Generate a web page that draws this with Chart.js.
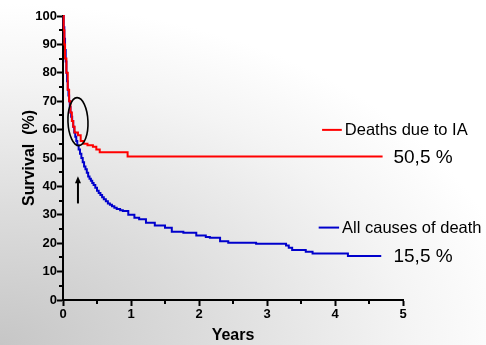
<!DOCTYPE html>
<html>
<head>
<meta charset="utf-8">
<script src="https://cdn.jsdelivr.net/npm/chart.js@4.4.0/dist/chart.umd.min.js"></script>
<style>
html,body{margin:0;padding:0;}
body{width:486px;height:345px;overflow:hidden;
background: radial-gradient(ellipse 120% 110% at 0% 100%, #c6c6c6 0%, #dcdcdc 35%, #f4f4f4 70%, #ffffff 90%);}
#wrap{position:relative;width:486px;height:345px;}
</style>
</head>
<body>
<div id="wrap"><canvas id="c" width="486" height="345"></canvas></div>
<script>
// Data (years, survival %)
const redYears = [0, 0.01, 0.02, 0.03, 0.05, 0.07, 0.09, 0.11, 0.13, 0.15, 0.17, 0.22, 0.26, 0.30, 0.36, 0.44, 0.49, 0.54, 0.95, 4.7];
const redSurv  = [100, 95, 90, 85, 80, 74, 70, 66, 63, 61, 59, 58, 56, 55, 54.5, 54, 53, 52, 50.5, 50.5];
const blueYears = [0, 0.01, 0.02, 0.03, 0.04, 0.05, 0.06, 0.07, 0.08, 0.09, 0.10, 0.11, 0.12, 0.135, 0.15, 0.165, 0.18, 0.195, 0.21, 0.23, 0.25, 0.27, 0.29, 0.31, 0.33, 0.35, 0.37, 0.39, 0.41, 0.43, 0.45, 0.475, 0.50, 0.525, 0.55, 0.575, 0.60, 0.63, 0.66, 0.69, 0.72, 0.755, 0.79, 0.84, 0.88, 0.96, 1.05, 1.12, 1.22, 1.35, 1.50, 1.60, 1.77, 1.96, 2.10, 2.16, 2.31, 2.43, 2.84, 3.28, 3.32, 3.37, 3.57, 3.67, 4.19, 4.68];
const blueSurv  = [100, 96, 92, 88, 84, 80, 77, 74, 72, 70, 68, 66, 64.5, 63, 61, 59, 57.5, 56, 54.5, 53, 51.5, 50, 48.5, 47, 46, 44.8, 43.5, 42.7, 42, 41.2, 40.5, 39.5, 38.5, 37.7, 37, 36.2, 35.5, 34.8, 34, 33.5, 33, 32.5, 32, 31.6, 31.3, 30, 29, 28.4, 27.2, 26.2, 25.4, 24.0, 23.7, 22.7, 22.2, 21.9, 20.7, 20.2, 19.8, 19.2, 18.4, 17.6, 17.0, 16.4, 15.5, 15.5];
const seriesNames = ["Deaths due to IA", "All causes of death"];
const finalLabels = ["50,5 %", "15,5 %"];
const xTitle = "Years";
const yTitle = "Survival  (%)";

const toPts = (xs, ys) => xs.map((x, i) => ({x: x, y: ys[i]}));
const FONT = "'Liberation Sans', Arial, sans-serif";

const annot = {
  id: 'annot',
  afterDatasetsDraw(chart) {
    const ctx = chart.ctx;
    const xs = chart.scales.x, ys = chart.scales.y;
    const ca = chart.chartArea;
    ctx.save();
    // minor ticks (shorter)
    ctx.strokeStyle = '#000'; ctx.lineWidth = 2;
    for (let v = 5; v < 100; v += 10) {
      const py = Math.round(ys.getPixelForValue(v));
      ctx.beginPath(); ctx.moveTo(ca.left - 4, py); ctx.lineTo(ca.left, py); ctx.stroke();
    }
    for (let v = 0.5; v < 5; v += 1) {
      const px = Math.round(xs.getPixelForValue(v));
      ctx.beginPath(); ctx.moveTo(px, ca.bottom); ctx.lineTo(px, ca.bottom + 4); ctx.stroke();
    }
    // ellipse
    ctx.strokeStyle = '#000'; ctx.lineWidth = 1.6;
    ctx.beginPath();
    ctx.ellipse(xs.getPixelForValue(0.22), ys.getPixelForValue(62.8), 10, 24, -0.04, 0, Math.PI*2);
    ctx.stroke();
    // arrow
    const ax = xs.getPixelForValue(0.22);
    const ay0 = ys.getPixelForValue(34), ay1 = ys.getPixelForValue(43.6);
    ctx.lineWidth = 2;
    ctx.beginPath(); ctx.moveTo(ax, ay0); ctx.lineTo(ax, ay1 + 5); ctx.stroke();
    ctx.fillStyle = '#000';
    ctx.beginPath(); ctx.moveTo(ax, ay1); ctx.lineTo(ax - 3, ay1 + 7); ctx.lineTo(ax + 3, ay1 + 7); ctx.closePath(); ctx.fill();
    // legend entries
    const ents = [
      {c: '#ff0000', x0: 3.81, x1: 4.10, y: 59.9, label: seriesNames[0], pv: 50.5, plabel: finalLabels[0]},
      {c: '#0000cc', x0: 3.76, x1: 4.06, y: 25.5, label: seriesNames[1], pv: 15.5, plabel: finalLabels[1]}
    ];
    ctx.textBaseline = 'middle'; ctx.textAlign = 'left';
    ents.forEach(e => {
      const py = ys.getPixelForValue(e.y);
      const p0 = xs.getPixelForValue(e.x0), p1 = xs.getPixelForValue(e.x1);
      ctx.strokeStyle = e.c; ctx.lineWidth = 2;
      ctx.beginPath(); ctx.moveTo(p0, py); ctx.lineTo(p1, py); ctx.stroke();
      ctx.fillStyle = '#000';
      ctx.font = '16.5px ' + FONT;
      ctx.fillText(e.label, p1 + 3, py + 1);
      ctx.font = '19px ' + FONT;
      ctx.fillText(e.plabel, xs.getPixelForValue(4.86), ys.getPixelForValue(e.pv) + 1);
    });
    ctx.restore();
  }
};

new Chart(document.getElementById('c'), {
  type: 'line',
  data: {
    datasets: [
      {label: seriesNames[0], data: toPts(redYears, redSurv), borderColor: '#ff0000', borderWidth: 2, pointRadius: 0, stepped: 'before', fill: false, clip: false},
      {label: seriesNames[1], data: toPts(blueYears, blueSurv), borderColor: '#0000cc', borderWidth: 2, pointRadius: 0, stepped: 'before', fill: false, clip: false}
    ]
  },
  options: {
    responsive: false,
    animation: false,
    layout: {padding: {top: 16, right: 83, left: 20, bottom: 0}},
    plugins: {legend: {display: false}, tooltip: {enabled: false}},
    scales: {
      x: {
        type: 'linear', min: 0, max: 5,
        afterFit(s) { s.height = 45; },
        border: {color: '#000', width: 2},
        grid: {drawOnChartArea: false, tickLength: 6, tickWidth: 2,
          tickColor: c => (c.tick && Math.abs(c.tick.value - Math.round(c.tick.value)) < 1e-6 ? '#000' : 'rgba(0,0,0,0)')},
        ticks: {stepSize: 0.5, color: '#000', padding: 1, maxRotation: 0, autoSkip: false,
          font: {family: FONT, size: 13, weight: 'bold'},
          callback: v => (Math.abs(v - Math.round(v)) < 1e-6 ? String(Math.round(v)) : '')},
        title: {display: true, text: xTitle, color: '#000', padding: {top: 0, bottom: 0},
          font: {family: FONT, size: 16, weight: 'bold'}}
      },
      y: {
        min: 0, max: 100,
        afterFit(s) { s.width = 43; },
        border: {color: '#000', width: 2},
        grid: {drawOnChartArea: false, tickLength: 6, tickWidth: 2,
          tickColor: c => (c.tick && c.tick.value % 10 === 0 ? '#000' : 'rgba(0,0,0,0)')},
        ticks: {stepSize: 5, color: '#000', padding: 0, autoSkip: false,
          font: {family: FONT, size: 13, weight: 'bold'},
          callback: v => (v % 10 === 0 ? String(v) : '')},
        title: {display: true, text: yTitle, color: '#000', padding: {top: 0, bottom: 0},
          font: {family: FONT, size: 16, weight: 'bold'}}
      }
    }
  },
  plugins: [annot]
});
</script>
</body>
</html>
